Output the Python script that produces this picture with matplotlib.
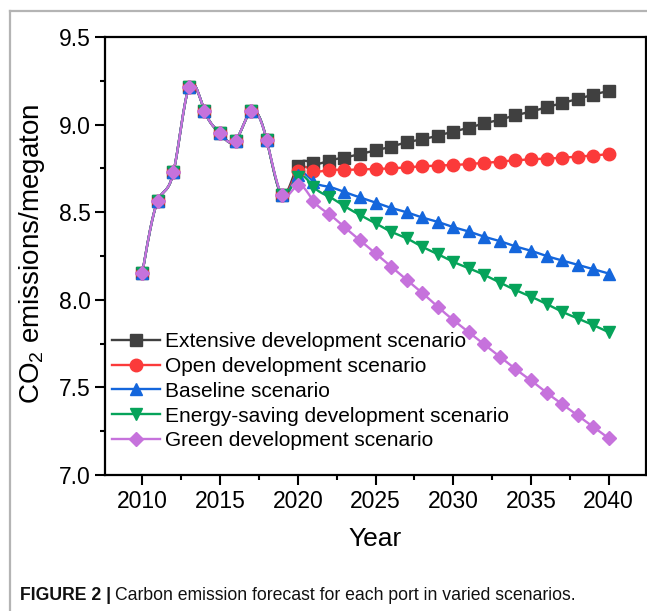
import numpy as np
import matplotlib
matplotlib.use("Agg")
import matplotlib.pyplot as plt
from matplotlib.lines import Line2D
from matplotlib.ticker import MultipleLocator, FormatStrFormatter

plt.rcParams['font.family'] = ['Liberation Sans', 'DejaVu Sans']
plt.rcParams['mathtext.fontset'] = 'custom'
plt.rcParams['mathtext.rm'] = 'Liberation Sans'

# ---- data -------------------------------------------------------------
hist_years = list(range(2010, 2020))
forecast_years = list(range(2020, 2041))

historical = [8.153, 8.566, 8.728, 9.213, 9.079, 8.950, 8.908, 9.078, 8.912, 8.598]

extensive = [8.764, 8.778, 8.794, 8.812, 8.832, 8.853, 8.874, 8.899, 8.916, 8.937,
             8.960, 8.982, 9.007, 9.028, 9.053, 9.074, 9.099, 9.122, 9.146, 9.171, 9.192]
open_dev = [8.737, 8.738, 8.740, 8.742, 8.744, 8.747, 8.750, 8.756, 8.762, 8.766,
            8.769, 8.775, 8.781, 8.789, 8.796, 8.802, 8.806, 8.811, 8.817, 8.823, 8.832]
baseline = [8.715, 8.675, 8.645, 8.615, 8.585, 8.555, 8.525, 8.500, 8.470, 8.445,
            8.415, 8.390, 8.360, 8.335, 8.305, 8.280, 8.250, 8.225, 8.200, 8.175, 8.150]
energy_saving = [8.703, 8.646, 8.589, 8.535, 8.484, 8.437, 8.389, 8.351, 8.303, 8.261,
                 8.217, 8.180, 8.142, 8.098, 8.056, 8.018, 7.976, 7.932, 7.894, 7.856, 7.815]
green = [8.655, 8.565, 8.490, 8.415, 8.340, 8.265, 8.190, 8.115, 8.040, 7.960,
         7.885, 7.815, 7.745, 7.675, 7.605, 7.540, 7.470, 7.405, 7.340, 7.275, 7.210]

labels = ["Extensive development scenario", "Open development scenario",
          "Baseline scenario", "Energy-saving development scenario",
          "Green development scenario"]
colors = ["#404040", "#fb3a3a", "#1466dc", "#06a35a", "#c672dc"]
markers = ["s", "o", "^", "v", "D"]
msizes = [8, 9, 9, 9, 7.5]

series = [extensive, open_dev, baseline, energy_saving, green]


def natural_spline(x, y, n=24):
    """Natural cubic spline through equally spaced points, sampled densely."""
    x = np.asarray(x, float)
    y = np.asarray(y, float)
    N = len(x)
    h = x[1] - x[0]
    A = np.zeros((N, N))
    b = np.zeros(N)
    A[0, 0] = A[-1, -1] = 1.0
    for i in range(1, N - 1):
        A[i, i - 1], A[i, i], A[i, i + 1] = 1.0, 4.0, 1.0
        b[i] = 6.0 * (y[i + 1] - 2 * y[i] + y[i - 1]) / h ** 2
    M = np.linalg.solve(A, b)
    xs, ys = [], []
    t = np.linspace(0, 1, n, endpoint=False)
    for i in range(N - 1):
        a, bb = 1 - t, t
        seg = (a * y[i] + bb * y[i + 1]
               + ((a ** 3 - a) * M[i] + (bb ** 3 - bb) * M[i + 1]) * h ** 2 / 6.0)
        xs.append(x[i] + t * h)
        ys.append(seg)
    xs.append([x[-1]])
    ys.append([y[-1]])
    return np.concatenate(xs), np.concatenate(ys)


# ---- figure -----------------------------------------------------------
W, H = 647, 611
fig = plt.figure(figsize=(W / 100, H / 100), dpi=100)
ax = fig.add_axes([105 / W, 1 - 475 / H, 541 / W, 438 / H])

handles = []
for vals, lab, c, m, ms in zip(series, labels, colors, markers, msizes):
    xs = hist_years + forecast_years
    ys = historical + vals
    sx, sy = natural_spline(xs, ys)
    ax.plot(sx, sy, color=c, lw=1.7, solid_capstyle='round', zorder=2)
    ax.plot(xs, ys, ls='none', marker=m, ms=ms, color=c, mec=c, zorder=3)
    handles.append(Line2D([], [], color=c, lw=1.7, marker=m, ms=ms, mec=c))

ax.set_xlim(2007.6, 2042.4)
ax.set_ylim(7.0, 9.5)
ax.xaxis.set_major_locator(MultipleLocator(5))
ax.xaxis.set_minor_locator(MultipleLocator(2.5))
ax.yaxis.set_major_locator(MultipleLocator(0.5))
ax.yaxis.set_minor_locator(MultipleLocator(0.25))
ax.yaxis.set_major_formatter(FormatStrFormatter('%.1f'))

for s in ax.spines.values():
    s.set_linewidth(1.6)
ax.tick_params(which='major', direction='out', length=7, width=1.5,
               labelsize=16.5, pad=4)
ax.tick_params(which='minor', direction='out', length=3.8, width=1.5)
ax.tick_params(axis='y', which='major', pad=3)

ax.set_xlabel("Year", fontsize=19)
ax.xaxis.set_label_coords(0.5, -0.118)
ax.set_ylabel(r"CO$_\mathregular{2}$ emissions/megaton", fontsize=20)
ax.yaxis.set_label_coords(-0.108, 0.505)

ax.legend(handles, labels, loc='upper left', frameon=False, fontsize=15,
          bbox_to_anchor=(112 / W, 1 - 332 / H), bbox_transform=fig.transFigure,
          borderpad=0, borderaxespad=0, labelspacing=0.28, handlelength=2.3,
          handletextpad=0.25)

# outer panel frame
frame_kw = dict(color='#b4b4b4', lw=1.6, transform=fig.transFigure, clip_on=False)
fig.add_artist(Line2D([10 / W, 10 / W], [0, 1 - 11 / H], **frame_kw))
fig.add_artist(Line2D([10 / W, 1], [1 - 11 / H, 1 - 11 / H], **frame_kw))

# caption
cap_fam = ['Liberation Sans Narrow', 'Liberation Sans', 'DejaVu Sans']
t1 = fig.text(20 / W, 1 - 596 / H, "FIGURE 2 |", fontsize=12.7, fontweight='bold',
              family=cap_fam, va='center', ha='left', color='#111111')
fig.canvas.draw()
bb = t1.get_window_extent()
fig.text((bb.x1 + 4) / W, 1 - 596 / H,
         "Carbon emission forecast for each port in varied scenarios.",
         fontsize=12.7, family=cap_fam, va='center', ha='left', color='#111111')

fig.savefig("out.png", dpi=100)
